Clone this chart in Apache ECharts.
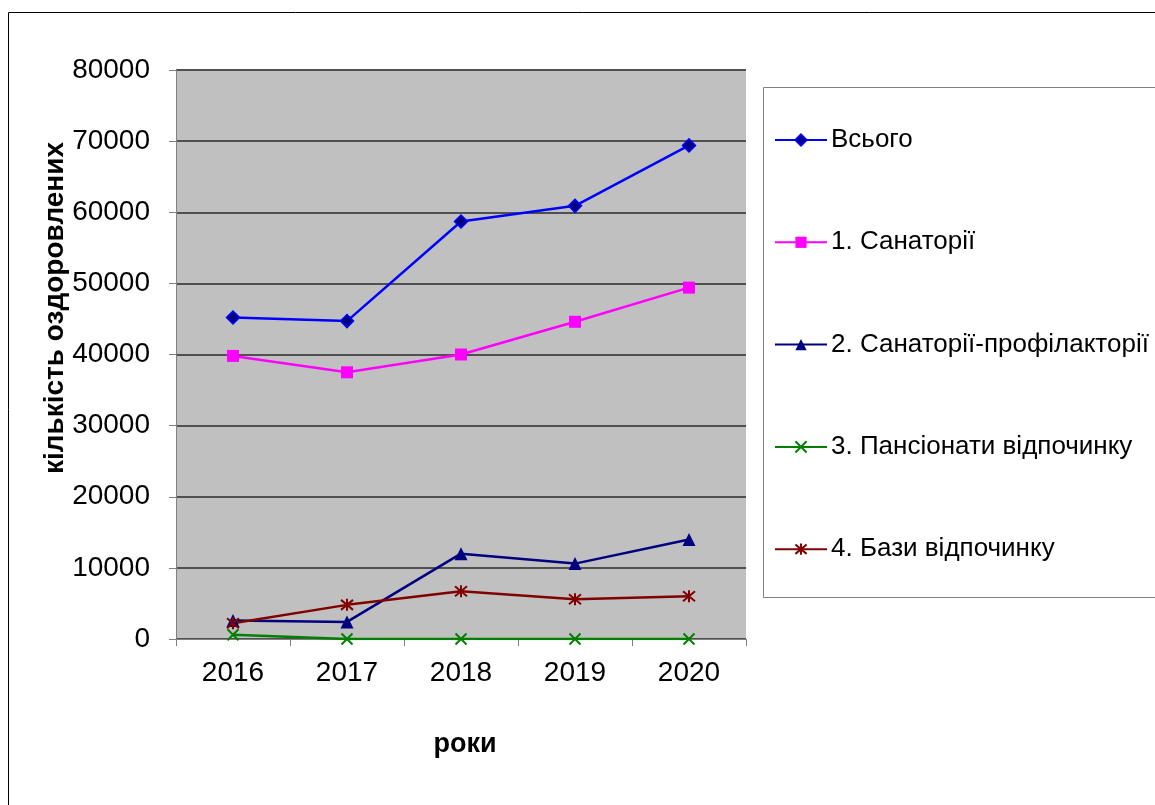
<!DOCTYPE html>
<html><head><meta charset="utf-8">
<script src="https://cdn.jsdelivr.net/npm/echarts@6/dist/echarts.min.js"></script>
<style>html,body{margin:0;padding:0;background:#fff}#c{width:1155px;height:805px}</style>
</head><body><div id="c"></div>
<script>
const years = ['2016','2017','2018','2019','2020'];
const seriesNames = ['Всього','1. Санаторії','2. Санаторії-профілакторії','3. Пансіонати відпочинку','4. Бази відпочинку'];
const total = [45200, 44700, 58700, 60900, 69400];
const sanatoria = [39800, 37500, 40000, 44600, 49400];
const prophylactoria = [2600, 2400, 12000, 10600, 14000];
const pensions = [600, 0, 0, 0, 0];
const bases = [2200, 4800, 6700, 5600, 6000];
const yTicks = [0, 10000, 20000, 30000, 40000, 50000, 60000, 70000, 80000];

const FONT = 'Liberation Sans, Arial, sans-serif';
const xPath = 'path://M0,0 L10,10 M10,0 L0,10';
const starPath = 'path://M0,0 L10,10 M10,0 L0,10 M5,-1 L5,11';

const chart = echarts.init(document.getElementById('c'), null, {renderer:'canvas'});
chart.setOption({
  animation:false,
  backgroundColor:'#fff',
  textStyle:{fontFamily:FONT},
  graphic:[
    {type:'rect', shape:{x:8.5,y:12.5,width:1160,height:800}, style:{fill:'none',stroke:'#000',lineWidth:1}, z:-10},
    {type:'rect', shape:{x:763.5,y:87.5,width:420,height:510}, style:{fill:'#fff',stroke:'#808080',lineWidth:1}, z:-5},
    {type:'text', x:55, y:308, rotation:Math.PI/2, style:{text:'кількість оздоровлених', font:'bold 28px '+FONT, fill:'#000', align:'center', verticalAlign:'middle'}},
    {type:'text', x:465, y:745, style:{text:'роки', font:'bold 27px '+FONT, fill:'#000', align:'center', verticalAlign:'middle'}}
  ],
  grid:{left:176, top:70, width:570, height:569, show:true, backgroundColor:'#C0C0C0', borderWidth:0},
  legend:{
    orient:'vertical', left:774, top:126, padding:0, itemWidth:52, itemHeight:14, itemGap:74.3,
    data:seriesNames,
    textStyle:{fontSize:26, fontFamily:FONT, color:'#000', padding:[0,0,0,-1], lineHeight:28},
    inactiveColor:'#ccc'
  },
  xAxis:{
    type:'category', data:years, boundaryGap:true,
    axisLine:{lineStyle:{color:'#808080', width:1}},
    axisTick:{show:true, inside:false, length:7, lineStyle:{color:'#808080'}},
    axisLabel:{fontSize:28, color:'#000', margin:20, fontFamily:FONT},
    splitLine:{show:false}
  },
  yAxis:{
    type:'value', min:yTicks[0], max:yTicks[yTicks.length-1], interval:10000,
    axisLine:{show:true, lineStyle:{color:'#808080', width:1}},
    axisTick:{show:true, length:7, lineStyle:{color:'#808080'}},
    axisLabel:{fontSize:28, color:'#000', margin:26, fontFamily:FONT, formatter:function(v){return String(v);}},
    splitLine:{show:true, lineStyle:{color:'#505050', width:2}}
  },
  series:[
    {name:seriesNames[0], type:'line', data:total, symbol:'diamond', symbolSize:13,
      lineStyle:{color:'#0000FF', width:2.5}, itemStyle:{color:'#000080', borderColor:'#0000FF', borderWidth:1.5}, z:5},
    {name:seriesNames[1], type:'line', data:sanatoria, symbol:'rect', symbolSize:12,
      lineStyle:{color:'#FF00FF', width:2.5}, itemStyle:{color:'#FF00FF'}},
    {name:seriesNames[2], type:'line', data:prophylactoria, symbol:'triangle', symbolSize:13,
      lineStyle:{color:'#000080', width:2.5}, itemStyle:{color:'#000080'}},
    {name:seriesNames[3], type:'line', data:pensions, symbol:xPath, symbolSize:11,
      lineStyle:{color:'#008000', width:2.5}, itemStyle:{color:'#008000', borderColor:'#008000', borderWidth:2}},
    {name:seriesNames[4], type:'line', data:bases, symbol:starPath, symbolSize:12,
      lineStyle:{color:'#800000', width:2.5}, itemStyle:{color:'#800000', borderColor:'#800000', borderWidth:2}}
  ]
});
</script></body></html>
